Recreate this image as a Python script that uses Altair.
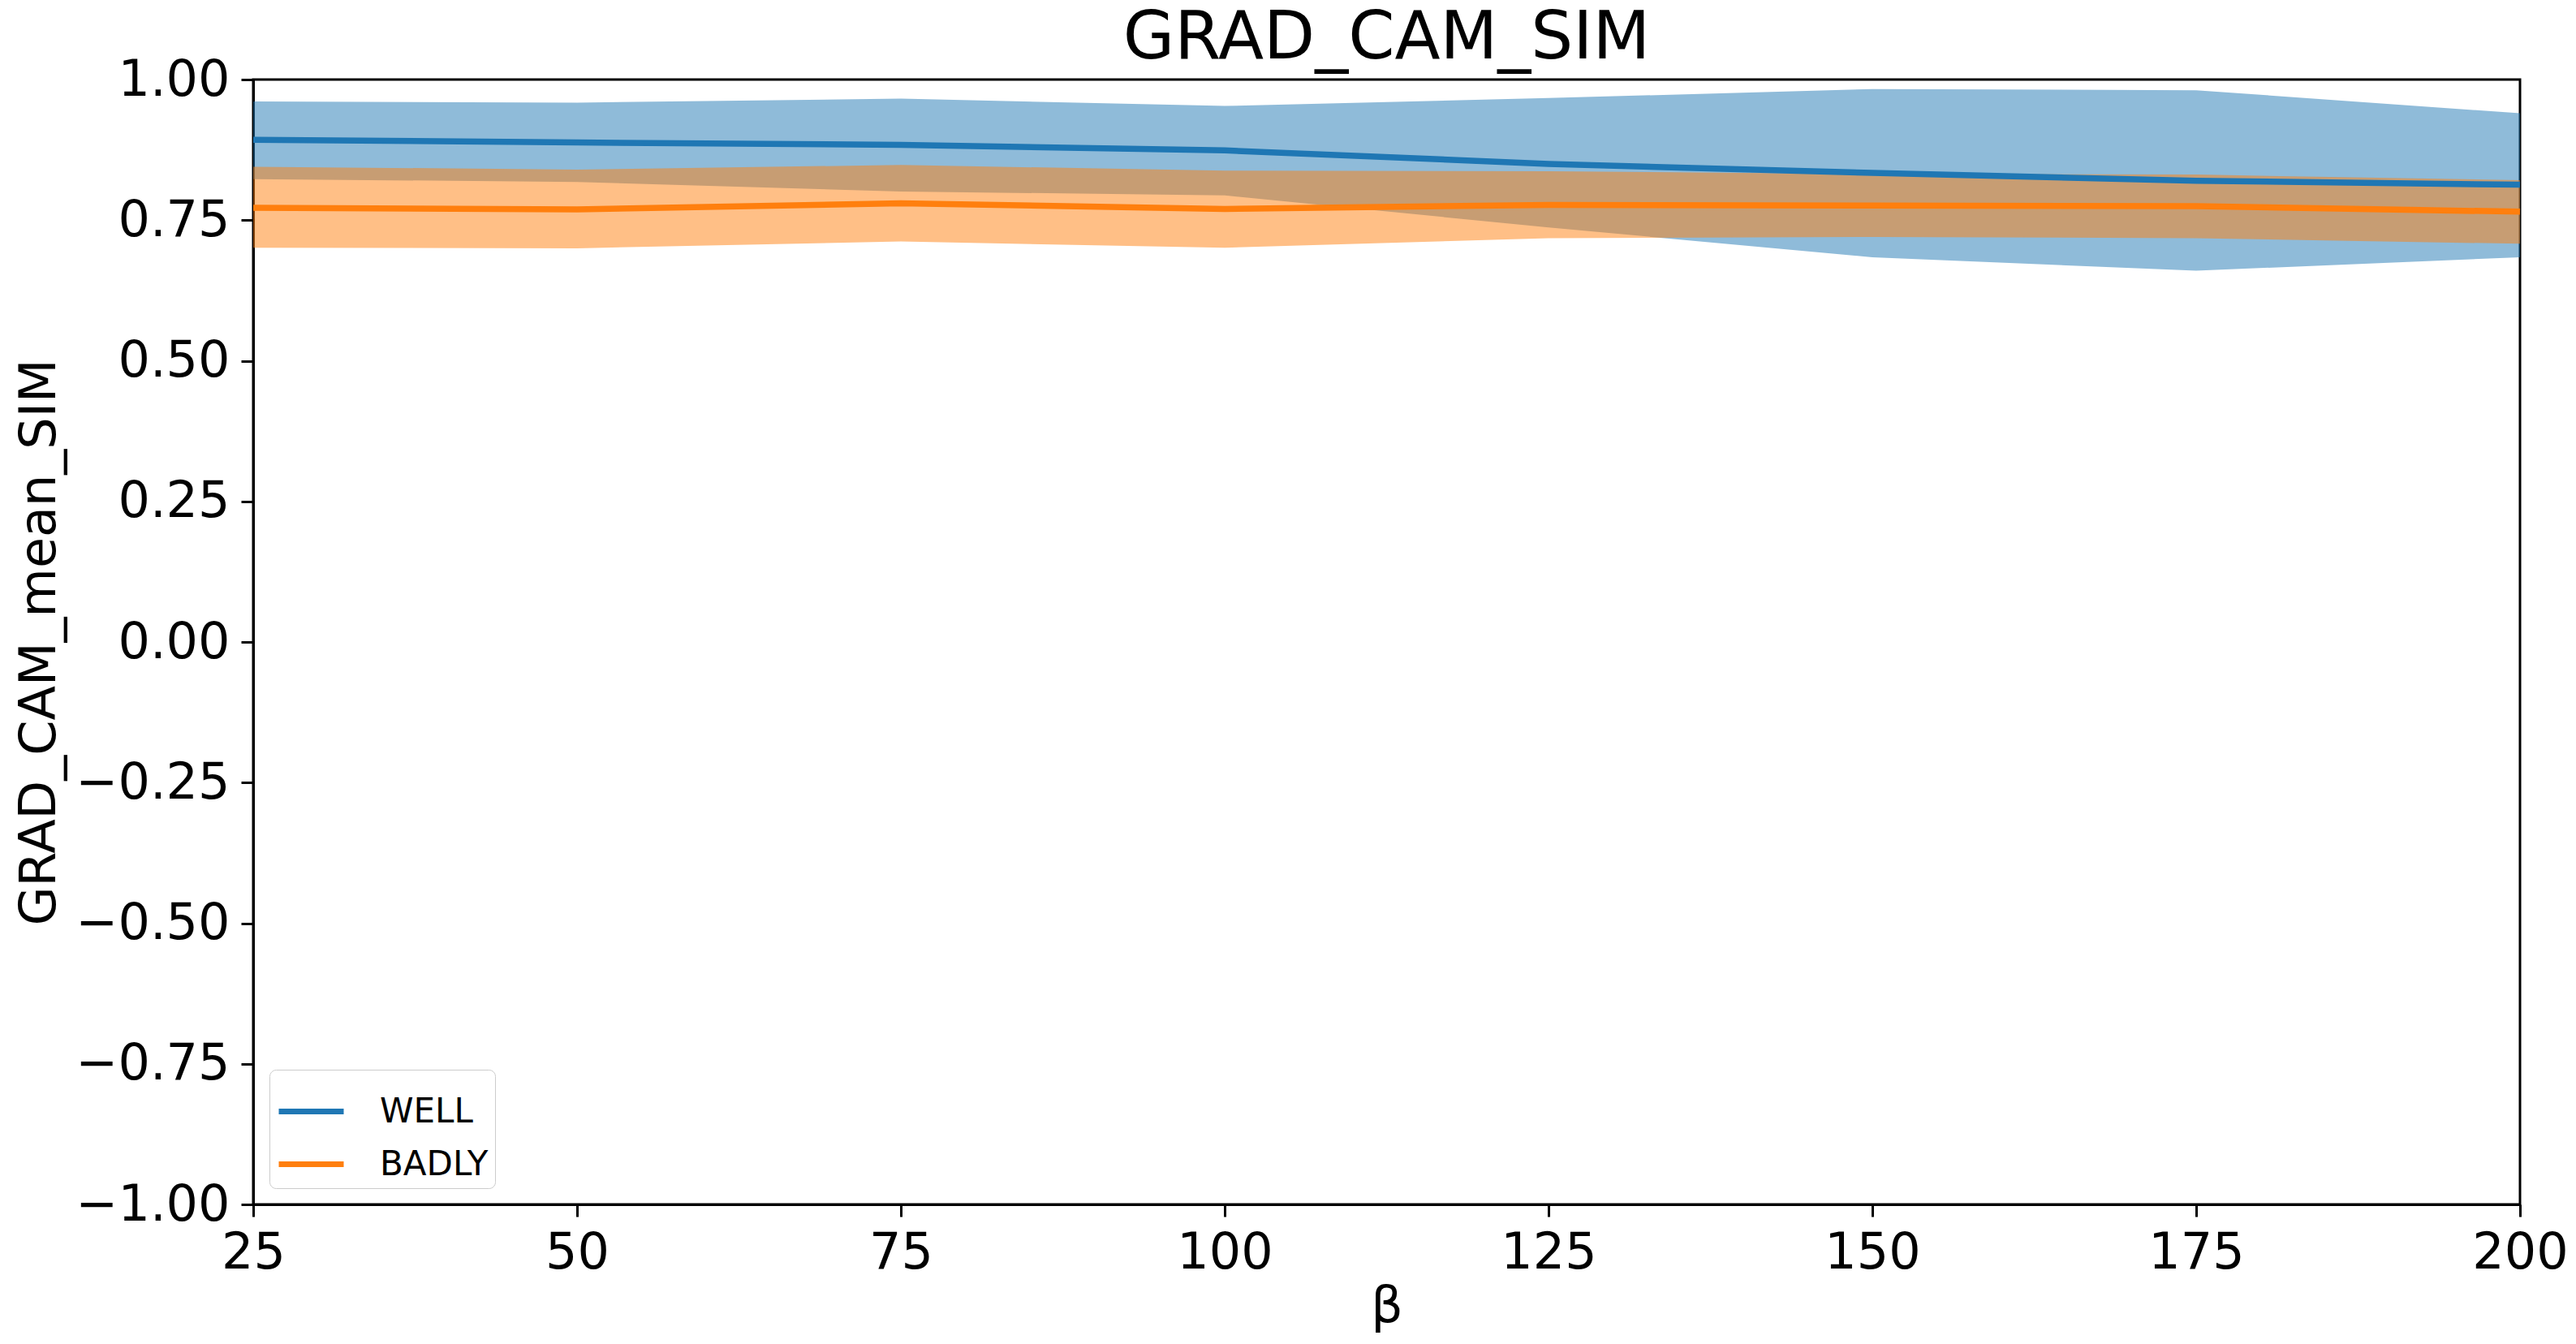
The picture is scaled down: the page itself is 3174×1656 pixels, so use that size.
import altair as alt
import pandas as pd

beta = [25, 50, 75, 100, 125, 150, 175, 200]

well_mean = [0.893, 0.888, 0.884, 0.874, 0.850, 0.834, 0.820, 0.813]
well_upper = [0.961, 0.959, 0.966, 0.953, 0.967, 0.983, 0.981, 0.940]
well_lower = [0.823, 0.818, 0.801, 0.794, 0.737, 0.684, 0.660, 0.684]

badly_mean = [0.772, 0.769, 0.780, 0.770, 0.777, 0.776, 0.775, 0.765]
badly_upper = [0.845, 0.840, 0.848, 0.838, 0.837, 0.832, 0.831, 0.821]
badly_lower = [0.701, 0.700, 0.712, 0.701, 0.718, 0.720, 0.718, 0.708]

groups = ["WELL", "BADLY"]
colors = ["#1f77b4", "#ff7f0e"]

rows = []
for g, m, u, l in [("WELL", well_mean, well_upper, well_lower),
                   ("BADLY", badly_mean, badly_upper, badly_lower)]:
    for b, mv, uv, lv in zip(beta, m, u, l):
        rows.append({"beta": b, "group": g, "mean": mv, "upper": uv, "lower": lv})
df = pd.DataFrame(rows)

FONT = "DejaVu Sans"

x_enc = alt.X("beta:Q",
              scale=alt.Scale(domain=[25, 200], nice=False, zero=False),
              axis=alt.Axis(values=beta, title="β", format="d", labelFlush=False,
                            titlePadding=5))
y_scale = alt.Scale(domain=[-1, 1], nice=False)
y_axis = alt.Axis(values=[-1, -0.75, -0.5, -0.25, 0, 0.25, 0.5, 0.75, 1.0],
                  format=".2f", title="GRAD_CAM_mean_SIM", labelFlush=False,
                  titlePadding=32)
color_scale = alt.Scale(domain=groups, range=colors)

base = alt.Chart(df)

band_well = base.transform_filter(alt.datum.group == "WELL").mark_area(
    opacity=0.5, color=colors[0]).encode(
    x=x_enc, y=alt.Y("lower:Q", scale=y_scale, axis=y_axis), y2="upper:Q")
band_badly = base.transform_filter(alt.datum.group == "BADLY").mark_area(
    opacity=0.5, color=colors[1]).encode(
    x=x_enc, y=alt.Y("lower:Q", scale=y_scale, axis=y_axis), y2="upper:Q")

lines = base.mark_line(strokeWidth=7.5).encode(
    x=x_enc,
    y=alt.Y("mean:Q", scale=y_scale, axis=y_axis),
    color=alt.Color("group:N", scale=color_scale, sort=groups,
                    legend=alt.Legend(
                        title=None, orient="bottom-left", offset=20,
                        symbolType="stroke", symbolSize=6400,
                        symbolStrokeWidth=7, labelFontSize=42,
                        labelFont=FONT, labelOffset=41, rowPadding=-17,
                        padding=8, strokeColor="#cccccc", fillColor="white",
                        cornerRadius=8, labelColor="black", labelLimit=400)),
    detail="group:N",
)

chart = alt.layer(band_well, band_badly, lines).properties(
    width=2793,
    height=1386,
    padding={"left": 304, "top": 90, "right": 61, "bottom": 170},
    autosize=alt.AutoSizeParams(type="none"),
    title=alt.TitleParams("GRAD_CAM_SIM", fontSize=82, font=FONT,
                          fontWeight="normal", anchor="middle",
                          offset=-22, color="black"),
).configure_axis(
    grid=False,
    domainColor="black", domainWidth=3,
    tickColor="black", tickWidth=3, tickSize=15,
    labelFont=FONT, labelFontSize=62, labelColor="black", labelPadding=14,
    labelLimit=600,
    titleFont=FONT, titleFontSize=62, titleColor="black", titleFontWeight="normal",
).configure_view(
    stroke="black", strokeWidth=3
)

chart.save("out.html", embed_options={"renderer": "svg", "actions": False})
